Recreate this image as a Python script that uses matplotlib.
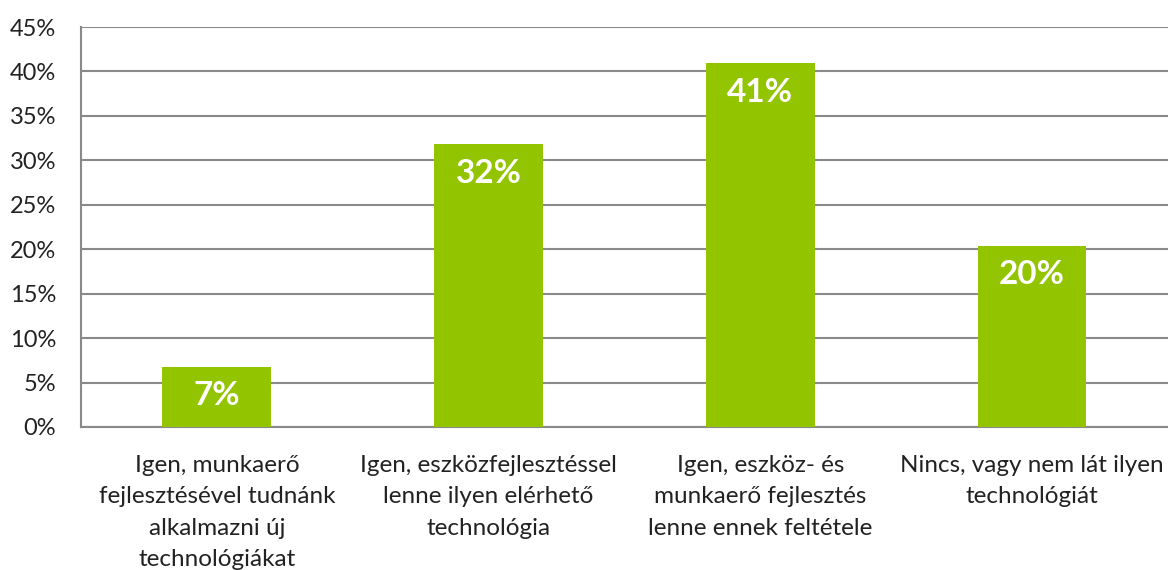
import matplotlib
matplotlib.use("Agg")
import matplotlib.pyplot as plt

categories = [
    "Igen, munkaerő\nfejlesztésével tudnánk\nalkalmazni új\ntechnológiákat",
    "Igen, eszközfejlesztéssel\nlenne ilyen elérhető\ntechnológia",
    "Igen, eszköz- és\nmunkaerő fejlesztés\nlenne ennek feltétele",
    "Nincs, vagy nem lát ilyen\ntechnológiát",
]
values = [0.068, 0.318, 0.409, 0.204]
labels = ["7%", "32%", "41%", "20%"]
yticks = [0, 0.05, 0.10, 0.15, 0.20, 0.25, 0.30, 0.35, 0.40, 0.45]
ytick_labels = ["0%", "5%", "10%", "15%", "20%", "25%", "30%", "35%", "40%", "45%"]

plt.rcParams['font.family'] = ['Lato', 'DejaVu Sans']

fig = plt.figure(figsize=(11.68, 5.70), dpi=100)
ax = fig.add_axes([0.0693, 0.2509, 0.9307, 0.7017])

x = list(range(len(categories)))
ax.bar(x, values, width=0.4, color="#92C400", zorder=3)
ax.set_xlim(-0.5, 3.5)
ax.set_ylim(0, 0.45)
ax.set_yticks(yticks)
ax.set_yticklabels(ytick_labels, fontsize=17, color="#222222")
ax.set_xticks(x)
ax.set_xticklabels(categories, fontsize=17.5, color="#222222", linespacing=1.62, va="top")
ax.tick_params(axis="both", length=0)
ax.tick_params(axis="x", pad=20)
ax.tick_params(axis="y", pad=18)
ax.grid(axis="y", color="#898989", linewidth=1.5, zorder=0)
for s in ["top", "right"]:
    ax.spines[s].set_visible(False)
for s in ["left", "bottom"]:
    ax.spines[s].set_color("#898989")
    ax.spines[s].set_linewidth(1.5)

for xi, v, lab in zip(x, values, labels):
    ax.annotate(lab, (xi, v), xytext=(0, -21), textcoords="offset points",
                ha="center", va="center", color="white", fontsize=24, fontweight="bold", zorder=4)

fig.savefig("out.png", dpi=100)
